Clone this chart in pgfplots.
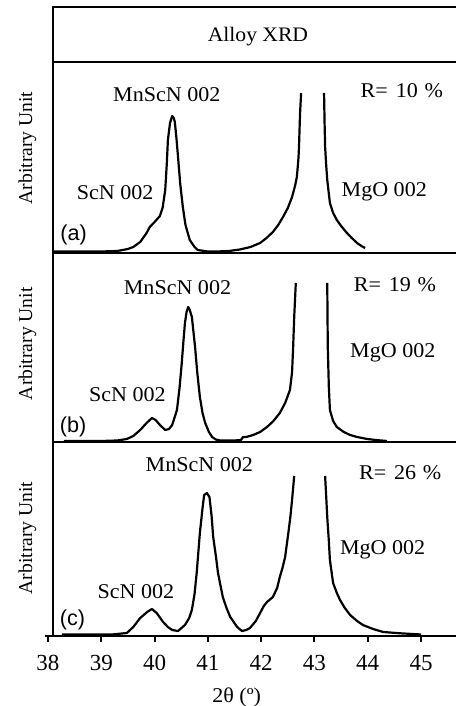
\documentclass[border=0pt]{standalone}
\usepackage{fontspec}
\setmainfont{Liberation Serif}
\newfontfamily\annfont[FakeStretch=1.05]{Liberation Serif}
\newfontfamily\arialfont{Liberation Sans}
\usepackage{pgfplots}
\usepackage{pgfplotstable}
\pgfplotsset{compat=1.18}

\pgfplotstableread{
x y
38.10 1.5
38.60 1.5
39.00 1.5
39.30 2
39.50 4
39.60 6
39.73 11
39.85 20
39.91 26
40.00 31
40.10 37
40.15 45
40.20 63
40.23 90
40.25 113
40.29 130
40.33 137
40.36 135
40.38 131
40.41 115
40.44 96
40.48 70
40.53 46
40.58 28
40.66 13
40.75 6
40.81 3
41.00 1.5
41.17 1.5
41.40 2
41.60 3.5
41.80 6
41.98 10
42.10 15
42.22 21
42.32 28
42.41 36
42.50 45
42.58 56
42.64 68
42.67 76
42.70 95
42.71 106
42.73 140
42.75 160
42.95 nan
43.18 160
43.19 130
43.20 106
43.22 88
43.24 73
43.29 50
43.35 40
43.42 33
43.50 27
43.61 20
43.70 15
43.80 10
43.88 7
43.95 5
}\dataA

\pgfplotstableread{
x y
38.30 1
39.00 1
39.30 1.5
39.48 3
39.60 6
39.73 12
39.85 19
39.95 24
40.02 22
40.10 17
40.20 12
40.27 13
40.33 17
40.42 32
40.47 55
40.51 79
40.54 100
40.57 119
40.60 130
40.63 135
40.66 132
40.70 125
40.73 110
40.76 95
40.80 70
40.85 45
40.90 29
40.95 19
41.02 10
41.08 5
41.15 2.5
41.23 1.5
41.50 1.5
41.62 2
41.66 5
41.72 5
41.85 7
41.98 10
42.11 15
42.23 21
42.35 29
42.45 39
42.54 52
42.58 70
42.60 95
42.62 125
42.65 159
42.95 nan
43.24 159
43.25 95
43.27 55
43.29 32
43.35 21
43.42 15
43.55 10
43.67 7
43.80 5
43.99 3
44.15 2
44.36 1
}\dataB

\pgfplotstableread{
x y
38.26 1.5
38.80 1.5
39.20 1.5
39.48 3
39.60 9
39.73 18
39.86 24
39.95 27
40.04 23
40.16 14
40.25 9
40.33 6
40.44 5
40.57 11
40.65 18
40.70 26
40.75 42
40.79 63
40.85 103
40.90 128
40.93 141
40.98 143
41.03 139
41.07 120
41.10 99
41.15 80
41.19 63
41.28 39
41.35 28
41.42 19
41.55 9
41.64 5
41.72 6
41.79 8
41.90 15
41.98 23
42.05 30
42.11 34
42.22 39
42.30 48
42.35 59
42.40 68
42.45 79
42.51 103
42.55 120
42.58 136
42.62 160
42.90 nan
43.20 160
43.22 140
43.24 119
43.27 95
43.29 76
43.35 53
43.42 43
43.48 36
43.57 28
43.67 21
43.80 15
43.91 11
44.10 7
44.29 4
44.61 2.7
45.00 1.5
}\dataC

\pgfplotsset{
  panel/.style={
    scale only axis,
    width=204pt,
    xmin=38.094, xmax=45.75,
    ymin=0,
    ticks=none,
    clip=false,
    axis line style={line width=1pt, -},
    unbounded coords=jump,
    anchor=south west,
  },
  curve/.style={black, line width=1.1pt, line join=round, no markers},
}
\tikzset{
  ann/.style={font=\annfont\fontsize{10.5}{12}\selectfont, anchor=center, inner sep=0pt},
  lab/.style={font=\arialfont\fontsize{10.8}{12}\selectfont, anchor=center, inner sep=0pt},
  ylab/.style={font=\fontsize{9.8}{12}\selectfont, rotate=90, anchor=center, inner sep=0pt},
}
\newcommand{\Rlab}[1]{R=\hspace{0.38em}#1\hspace{0.32em}\%}

\begin{document}
\begin{tikzpicture}
\useasboundingbox (0pt,0pt) rectangle (227.5pt,353pt);

% title box
\begin{axis}[panel, at={(26.5pt,322pt)}, height=27.5pt, ymax=1]
\node[font=\annfont\fontsize{10.3}{12}\selectfont, anchor=center] at (axis cs:41.94,0.47) {Alloy XRD};
\end{axis}

% panel (a)
\begin{axis}[panel, at={(26.5pt,226.5pt)}, height=95.5pt, ymax=191]
\addplot[curve] table[x=x,y=y] {\dataA};
\node[ann] at (axis cs:40.23,158) {MnScN 002};
\node[ann] at (axis cs:39.26,60) {ScN 002};
\node[lab] at (axis cs:38.48,18) {(a)};
\node[ann] at (axis cs:44.64,162) {\Rlab{10}};
\node[ann] at (axis cs:44.31,61) {MgO 002};
\node[ylab] at (rel axis cs:-0.0626,0.55) {Arbitrary Unit};
\end{axis}

% panel (b)
\begin{axis}[panel, at={(26.5pt,132pt)}, height=94.5pt, ymax=189]
\addplot[curve] table[x=x,y=y] {\dataB};
\node[ann] at (axis cs:40.43,154) {MnScN 002};
\node[ann] at (axis cs:39.49,47) {ScN 002};
\node[lab] at (axis cs:38.47,15) {(b)};
\node[ann] at (axis cs:44.51,157) {\Rlab{19}};
\node[ann] at (axis cs:44.47,89) {MgO 002};
\node[ylab] at (rel axis cs:-0.0626,0.52) {Arbitrary Unit};
\end{axis}

% panel (c)
\begin{axis}[panel, at={(22.4pt,35pt)}, width=208.1pt, height=97pt,
  xmin=37.94, xmax=45.75, ymax=194,
  axis x line*=bottom, axis y line=none,
  x axis line style={-, line width=1pt},
  every outer x axis line/.append style={-},
  ticks=major, xtick={38,39,...,45}, ytick=\empty,
  tick align=outside, major tick length=3.2pt,
  xtick style={line width=1pt, black},
  /pgf/number format/assume math mode=true,
  xticklabel style={font=\fontsize{11.5}{13}\selectfont, yshift=-3pt},
]
\addplot[curve] table[x=x,y=y] {\dataC};
\draw[line width=1pt] (axis cs:38.094,0) -- (axis cs:38.094,194);
\node[ann] at (axis cs:40.84,171) {MnScN 002};
\node[ann] at (axis cs:39.65,44) {ScN 002};
\node[lab] at (axis cs:38.46,16) {(c)};
\node[ann] at (axis cs:44.61,163) {\Rlab{26}};
\node[ann] at (axis cs:44.28,86) {MgO 002};
\node[ylab] at (rel axis cs:-0.0416,0.505) {Arbitrary Unit};
\node[font=\annfont\fontsize{10.5}{12}\selectfont, anchor=center] at (axis cs:41.54,0) [yshift=-30.5pt] {2θ (º)};
\end{axis}
\end{tikzpicture}
\end{document}
